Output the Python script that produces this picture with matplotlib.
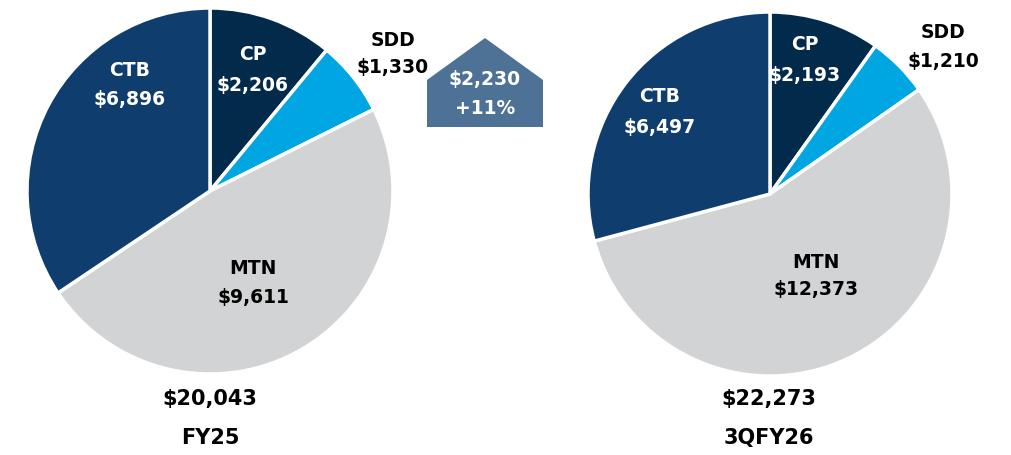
import matplotlib
matplotlib.use("Agg")
import matplotlib.pyplot as plt
from matplotlib.patches import Polygon

categories = ["CP", "SDD", "MTN", "CTB"]
fy25_values = [2206, 1330, 9611, 6896]
q3fy26_values = [2193, 1210, 12373, 6497]
period_labels = ["FY25", "3QFY26"]
change_value = 2230
change_pct = "+11%"

colors = ["#022a4b", "#00a6e1", "#d1d3d5", "#0f3d6d"]
label_colors = ["white", "black", "black", "white"]

W, H = 1012, 455
fig = plt.figure(figsize=(W / 100, H / 100), dpi=100)
ax = fig.add_axes([0, 0, 1, 1])
ax.set_xlim(0, W)
ax.set_ylim(0, H)
ax.set_aspect("equal")
ax.axis("off")

lab_font = "DejaVu Sans"
tot_font = "DejaVu Sans"

def Y(py):
    return H - py

pies = [
    dict(vals=fy25_values, c=(210, 191), r=183,
         pos=[(253, 55, 85), (393, 40, 68), (253, 268, 298), (130, 70, 100)],
         tot=(210, 399), per=(210, 438)),
    dict(vals=q3fy26_values, c=(770, 194), r=182,
         pos=[(805, 45, 75), (943, 33, 62), (816, 262, 290), (660, 97, 127)],
         tot=(769, 399), per=(769, 438)),
]

for i, p in enumerate(pies):
    ax.pie(p["vals"], colors=colors, startangle=90, counterclock=False,
           center=(p["c"][0], Y(p["c"][1])), radius=p["r"],
           wedgeprops=dict(edgecolor="white", linewidth=2.5), frame=True)
    for k, (x, y1, y2) in enumerate(p["pos"]):
        ax.text(x, Y(y1), categories[k], ha="center", va="center", fontsize=13.5,
                fontweight="bold", color=label_colors[k], family=lab_font)
        ax.text(x, Y(y2), f"${p['vals'][k]:,}", ha="center", va="center", fontsize=13.5,
                fontweight="bold", color=label_colors[k], family=lab_font)
    ax.text(p["tot"][0], Y(p["tot"][1]), f"${sum(p['vals']):,}", ha="center", va="center",
            fontsize=15, fontweight="bold", color="black", family=tot_font)
    ax.text(p["per"][0], Y(p["per"][1]), period_labels[i], ha="center", va="center",
            fontsize=15, fontweight="bold", color="black", family=tot_font)

ax.set_xlim(0, W)
ax.set_ylim(0, H)
ax.axis("off")

arrow = Polygon([(427, Y(127)), (427, Y(80)), (485, Y(38)), (543, Y(80)), (543, Y(127))],
                closed=True, facecolor="#4e7196", edgecolor="none")
ax.add_patch(arrow)
ax.text(485, Y(80), f"${change_value:,}", ha="center", va="center", fontsize=13.5,
        fontweight="bold", color="white", family="DejaVu Sans")
ax.text(485, Y(108), change_pct, ha="center", va="center", fontsize=13.5,
        fontweight="bold", color="white", family="DejaVu Sans")

fig.savefig("out.png", dpi=100, facecolor="white")
